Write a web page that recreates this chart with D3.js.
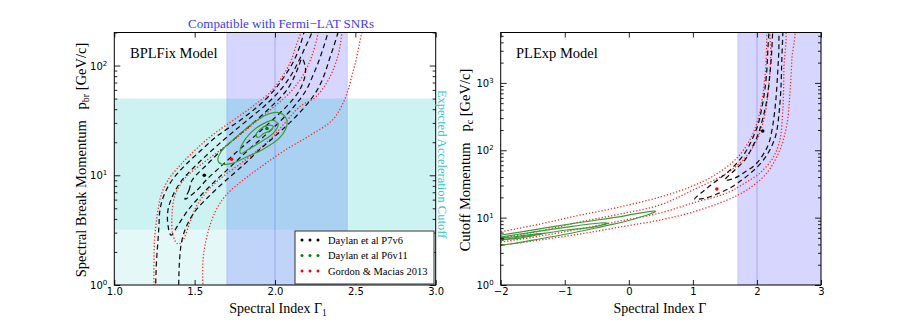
<!DOCTYPE html>
<html><head><meta charset="utf-8">
<script src="https://cdn.jsdelivr.net/npm/d3@7"></script>
<style>body{margin:0;background:#fff}svg{display:block}</style>
</head><body><svg id="c" width="913" height="326"></svg>
<script>
// ---------------- DATA ----------------
// Left panel (BPLFix): [Gamma1, p_br GeV/c]
const bplXTicks = [1.0, 1.5, 2.0, 2.5, 3.0];
const bplYMajor = [1, 10, 100];
const bplYMinor = [2,3,4,5,6,7,8,9,20,30,40,50,60,70,80,90,200];
const fermiBand = [1.7, 2.45];
const fermiLine = 2.0;
const accelBand = [3.2, 50];
const accelLow = [1, 3.2];

const p7v6BPL_3s = [[1.256,0.864],[1.263,1.69],[1.272,2.56],[1.278,3.51],[1.284,4.81],[1.309,6.58],[1.359,9.01],[1.440,12.3],[1.540,16.9],[1.645,23.1],[1.782,31.6],[1.900,43.3],[1.994,59.3],[2.062,81.1],[2.118,111],[2.156,152],[2.180,200],[2.193,231],
  [2.404,231],[2.392,200],[2.367,152],[2.336,111],[2.305,81.1],[2.261,59.3],[2.193,43.3],[2.106,31.6],[2.006,23.1],[1.900,16.9],[1.801,12.3],[1.695,9.01],[1.596,6.58],[1.508,4.81],[1.452,3.51],[1.421,2.56],[1.406,1.69],[1.400,0.864]];
const p7v6BPL_2s = [[2.243,231],[2.230,200],[2.193,152],[2.149,111],[2.099,81.1],[2.031,59.3],[1.938,43.3],[1.826,31.6],[1.714,23.1],[1.608,16.9],[1.508,12.3],[1.421,9.01],[1.365,6.58],[1.334,4.81],[1.334,3.51],[1.353,2.85],
  [1.396,3.51],[1.459,4.81],[1.540,6.58],[1.633,9.01],[1.732,12.3],[1.832,16.9],[1.938,23.1],[2.037,31.6],[2.124,43.3],[2.193,59.3],[2.236,81.1],[2.274,111],[2.305,152],[2.330,200],[2.342,231]];
const p7v6BPL_1s = [[1.440,6.05],[1.465,7.30],[1.484,9.01],[1.571,12.3],[1.667,16.9],[1.773,23.1],[1.882,31.6],[1.984,43.3],[2.072,59.3],[2.124,81.1],[2.149,100],[2.168,116],
  [2.187,100],[2.187,81.1],[2.152,59.3],[2.078,43.3],[1.981,31.6],[1.879,23.1],[1.773,16.9],[1.670,12.3],[1.571,9.01],[1.515,7.30]];
const gmBPL_2s = [[1.247,0.864],[1.247,1.69],[1.250,2.56],[1.259,3.51],[1.272,4.81],[1.291,6.58],[1.334,9.01],[1.409,12.3],[1.502,16.9],[1.608,23.1],[1.739,31.6],[1.869,43.3],[1.981,59.3],[2.050,81.1],[2.100,111],[2.131,152],[2.162,200],[2.174,231],
  [2.554,231],[2.541,200],[2.523,152],[2.504,111],[2.479,81.1],[2.454,59.3],[2.417,43.3],[2.355,31.6],[2.218,23.1],[2.062,16.9],[1.925,12.3],[1.801,9.01],[1.695,6.58],[1.633,4.81],[1.596,3.51],[1.571,2.56],[1.552,1.69],[1.552,0.864]];
const gmBPL_1s = [[2.268,230],[2.268,200],[2.230,123],[2.174,81.1],[2.093,56.8],[1.981,40.6],[1.876,30.3],[1.770,22.6],[1.658,16.9],[1.533,12.3],[1.440,9.40],[1.378,6.58],[1.359,4.33],[1.365,2.85],[1.396,2.36],
  [1.427,2.56],[1.471,3.74],[1.515,5.34],[1.583,7.30],[1.670,9.59],[1.770,12.3],[1.876,16.2],[1.981,22.1],[2.075,31.6],[2.156,42.4],[2.249,51.2],[2.330,73.1],[2.392,123],[2.417,200],[2.423,230]];
const p6v11BPL_3s = [[1.645,13.7],[1.670,16.9],[1.751,21.7],[1.845,28.5],[1.938,35.1],[2.012,37.4],[2.062,34.4],[2.075,29.1],[2.031,22.1],[1.925,17.2],[1.832,14.9],[1.739,12.9],[1.670,12.6]];
const p6v11BPL_2s = [[1.782,16.2],[1.795,19.1],[1.845,24.1],[1.919,29.1],[1.988,31.6],[2.019,29.1],[1.994,24.6],[1.919,20.4],[1.845,17.6],[1.789,15.8]];
const p6v11BPL_1s = [[1.882,23.1],[1.907,26.2],[1.956,28.5],[1.988,27.9],[1.975,25.7],[1.932,24.1],[1.895,22.1]];
const bplBest = {p7v6:[1.56,10.0], p6v11:[1.95,26.7], gm:[1.73,14.0]};

// Right panel (PLExp): [Gamma, p_c GeV/c]
const pleXTicks = [-2, -1, 0, 1, 2, 3];
const pleYMajor = [1, 10, 100, 1000];
const pleYMinor = [2,3,4,5,6,7,8,9,20,30,40,50,60,70,80,90,200,300,400,500,600,700,800,900,2000,3000,4000,5000];
const fermiBandR = [1.7, 3.0];

const gmPLE_2s = [[-2.09,5.91],[-1.387,8.03],[-0.763,10.9],[-0.139,14.4],[0.485,20.2],[0.953,28.4],[1.343,42.9],[1.686,76.6],[1.889,142],[2.014,281],[2.092,659],[2.139,1837],[2.154,5670],[2.154,7210],
  [2.560,7210],[2.544,2180],[2.513,659],[2.466,237],[2.357,101],[2.154,45.9],[1.842,25.7],[1.530,18.2],[1.000,12.1],[0.485,9.21],[-0.139,7.25],[-0.763,5.71],[-1.387,4.65],[-2.09,3.79]];
const gmPLE_1s = [[-2.09,4.81],[-1.387,6.33],[-0.763,8.61],[-0.139,11.3],[0.485,15.4],[1.000,25.7],[1.530,45.9],[1.811,76.6],[1.998,142],[2.123,333],[2.186,927],[2.217,2585],[2.232,7210],
  [2.420,7210],[2.420,1549],[2.404,395],[2.357,142],[2.248,76.6],[2.045,45.9],[1.811,32.6],[1.530,23.2],[1.000,16.5],[0.485,11.7],[-0.139,8.91],[-0.763,6.78],[-1.387,5.33],[-2.09,4.20]];
const p7v6PLE_2s = [[2.186,7210],[2.186,5670],[2.170,3068],[2.154,1549],[2.123,782],[2.076,423],[2.014,237],[1.920,142],[1.811,90.8],[1.686,64.6],[1.530,45.9],[1.343,33.8],[1.187,25.7],[1.031,18.9],
  [1.187,19.5],[1.374,22.4],[1.577,27.5],[1.764,36.1],[1.920,47.5],[2.076,66.8],[2.201,101],[2.295,168],[2.342,333],[2.373,782],[2.388,2180],[2.404,5670],[2.404,7210]];
const p7v6PLE_1s = [[2.248,7210],[2.232,3068],[2.201,1306],[2.154,556],[2.092,300],[2.014,168],[1.920,108],[1.811,71.6],[1.655,50.9],[1.499,36.1],
  [1.655,38.7],[1.811,47.5],[1.967,60.3],[2.092,84.9],[2.186,128],[2.248,237],[2.295,556],[2.326,1549],[2.342,3068],[2.342,7210]];
const p6v11PLE_3s = [[-2.09,5.33],[-1.699,6.11],[-1.231,7.25],[-0.716,8.61],[-0.186,10.2],[0.173,11.7],[0.423,12.5],[0.329,11.3],[-0.030,8.91],[-0.450,7.25],[-0.966,5.71],[-1.496,4.65],[-1.855,4.06],[-2.09,3.79]];
const p6v11PLE_2s = [[-2.09,4.98],[-1.496,6.11],[-0.966,7.25],[-0.450,8.32],[-0.326,8.32],[-0.560,7.25],[-0.966,6.55],[-1.496,5.52],[-1.808,4.98],[-2.09,4.49]];
const p6v11PLE_1s = [[-2.09,4.81],[-1.699,5.33],[-1.309,5.91],[-1.699,4.98],[-2.09,4.65]];
const pleBest = {p7v6:[2.09,193], p6v11:[-1.97,4.8], gm:[1.374,26.6]};

const legendLabels = ["Daylan et al P7v6", "Daylan et al P6v11", "Gordon & Macias 2013"];
const legendColors = ["#000000", "#008000", "#ff0000"];

// ---------------- DRAW ----------------
const svg = d3.select("#c");
const SERIF = "'Liberation Serif', 'DejaVu Serif', serif";
const SANS = "'DejaVu Sans', sans-serif";
const BLACK = {stroke:"#111", width:1.25, dash:"5,3.5"};
const RED = {stroke:"#ff2a2a", width:1.3, dash:"1.3,1.9"};
const GREEN = {stroke:"#3a9a3a", width:1.2, dash:null};

const xL = d3.scaleLinear().domain([1,3]).range([114.3,435.7]);
const yL = d3.scaleLog().domain([1,200]).range([285,32.5]);
const xR = d3.scaleLinear().domain([-2,3]).range([500.7,821]);
const yR = d3.scaleLog().domain([1,5600]).range([285,32.5]);

function clip(id, x, y){
  svg.append("clipPath").attr("id",id).append("rect")
    .attr("x",x.range()[0]).attr("y",y.range()[1])
    .attr("width",x.range()[1]-x.range()[0]).attr("height",y.range()[0]-y.range()[1]);
}
clip("cl", xL, yL); clip("cr", xR, yR);

function drawContour(g, x, y, data, style, closed){
  const ln = d3.line().x(d=>x(d[0])).y(d=>y(d[1]))
    .curve(closed ? d3.curveCatmullRomClosed.alpha(0.5) : d3.curveCatmullRom.alpha(0.5));
  g.append("path").attr("d", ln(data)).attr("fill","none")
    .attr("stroke", style.stroke).attr("stroke-width", style.width)
    .attr("stroke-dasharray", style.dash);
}
function dot(g, x, y, d, color){
  g.append("circle").attr("cx",x(d[0])).attr("cy",y(d[1])).attr("r",1.8).attr("fill",color);
}

function axes(x, y, xTicks, xFmt, yMajor, yMinor){
  const [x0,x1] = x.range(), [y0,y1] = y.range();
  const ga = svg.append("g").attr("font-family", SANS).attr("font-size", 10);
  const style = sel => { sel.select(".domain").remove(); sel.selectAll(".tick line").attr("stroke","#222"); sel.selectAll("text").attr("fill","#000").attr("font-family",SANS).attr("font-size",10); };
  ga.append("g").attr("transform",`translate(0,${y0})`)
    .call(d3.axisBottom(x).tickValues(xTicks).tickSize(-5).tickPadding(3).tickFormat(xFmt)).call(style);
  ga.append("g").attr("transform",`translate(0,${y1})`)
    .call(d3.axisTop(x).tickValues(xTicks).tickSize(-5).tickFormat("")).call(style);
  const yl = ga.append("g").attr("transform",`translate(${x0},0)`)
    .call(d3.axisLeft(y).tickValues(yMajor).tickSize(-6).tickPadding(7).tickFormat(()=>"")).call(style);
  yl.selectAll(".tick text").each(function(d){
    const t = d3.select(this);
    t.text("10").attr("dy","0.35em");
    t.append("tspan").attr("dy","-0.55em").attr("font-size",7).text(Math.round(Math.log10(d)));
  });
  ga.append("g").attr("transform",`translate(${x0},0)`)
    .call(d3.axisLeft(y).tickValues(yMinor).tickSize(-3).tickFormat("")).call(style);
  ga.append("g").attr("transform",`translate(${x1},0)`)
    .call(d3.axisRight(y).tickValues(yMajor).tickSize(-6).tickFormat("")).call(style);
  ga.append("g").attr("transform",`translate(${x1},0)`)
    .call(d3.axisRight(y).tickValues(yMinor).tickSize(-3).tickFormat("")).call(style);
  svg.append("rect").attr("x",x0).attr("y",y1).attr("width",x1-x0).attr("height",y0-y1)
    .attr("fill","none").attr("stroke","#000").attr("stroke-width",1);
}

// ---- Left panel ----
{
  const g = svg.append("g").attr("clip-path","url(#cl)");
  const [x0,x1] = xL.range();
  g.append("rect").attr("x",xL(fermiBand[0])).attr("width",xL(fermiBand[1])-xL(fermiBand[0]))
    .attr("y",yL.range()[1]).attr("height",yL.range()[0]-yL.range()[1])
    .attr("fill","rgb(0,0,255)").attr("fill-opacity",0.16).attr("stroke","rgba(0,0,255,0.12)");
  g.append("rect").attr("x",x0).attr("width",x1-x0).attr("y",yL(accelLow[1])).attr("height",yL(accelLow[0])-yL(accelLow[1]))
    .attr("fill","rgb(0,191,191)").attr("fill-opacity",0.1);
  g.append("rect").attr("x",x0).attr("width",x1-x0).attr("y",yL(accelBand[1])).attr("height",yL(accelBand[0])-yL(accelBand[1]))
    .attr("fill","rgb(0,191,191)").attr("fill-opacity",0.2);
  g.append("line").attr("x1",xL(fermiLine)).attr("x2",xL(fermiLine)).attr("y1",yL.range()[0]).attr("y2",yL.range()[1])
    .attr("stroke","rgba(60,60,230,0.22)").attr("stroke-width",1.3);

  drawContour(g,xL,yL,gmBPL_2s,RED,false);
  drawContour(g,xL,yL,gmBPL_1s,RED,false);
  drawContour(g,xL,yL,p7v6BPL_3s,BLACK,false);
  drawContour(g,xL,yL,p7v6BPL_2s,BLACK,false);
  drawContour(g,xL,yL,p7v6BPL_1s,BLACK,true);
  drawContour(g,xL,yL,p6v11BPL_3s,GREEN,true);
  drawContour(g,xL,yL,p6v11BPL_2s,GREEN,true);
  drawContour(g,xL,yL,p6v11BPL_1s,GREEN,true);
  dot(g,xL,yL,bplBest.p7v6,"#000");
  dot(g,xL,yL,bplBest.p6v11,"#008000");
  dot(g,xL,yL,bplBest.gm,"#ff0000");

  axes(xL, yL, bplXTicks, d3.format(".1f"), bplYMajor, bplYMinor);

  svg.append("text").attr("x",130).attr("y",58).attr("font-family",SERIF).attr("font-size",14.5).text("BPLFix Model");
  svg.append("text").attr("x",(xL(fermiBand[0])+xL(fermiBand[1]))/2 - 6).attr("y",28).attr("text-anchor","middle")
    .attr("font-family",SERIF).attr("font-size",13).attr("fill","#3a3aff").text("Compatible with Fermi\u2212LAT SNRs");
  svg.append("text").attr("transform",`translate(438,${(yL(accelBand[0])+yL(accelBand[1]))/2}) rotate(90)`)
    .attr("text-anchor","middle").attr("font-family",SERIF).attr("font-size",12.5).attr("fill","#2cc6c6")
    .text("Expected Acceleration Cutoff");
  const xl = svg.append("text").attr("x",278).attr("y",312.5).attr("text-anchor","middle")
    .attr("font-family",SERIF).attr("font-size",14).text("Spectral Index \u0393");
  xl.append("tspan").attr("dy",3).attr("font-size",9.5).text("1");
  const ylab = svg.append("text").attr("transform","translate(86,160) rotate(-90)").attr("text-anchor","middle")
    .attr("font-family",SERIF).attr("font-size",14.5).text("Spectral Break Momentum\u2002 p");
  ylab.append("tspan").attr("dy",3).attr("font-size",10).text("br");
  ylab.append("tspan").attr("dy",-3).text(" [GeV/c]");

  const lg = svg.append("g");
  lg.append("rect").attr("x",295).attr("y",231).attr("width",139).attr("height",53)
    .attr("fill","#fff").attr("stroke","#333").attr("stroke-width",1);
  legendLabels.forEach((lab,i)=>{
    const yy = 240 + i*15.5;
    [302,310,318].forEach(xx=>lg.append("circle").attr("cx",xx).attr("cy",yy).attr("r",1.5).attr("fill",legendColors[i]));
    lg.append("text").attr("x",328).attr("y",yy).attr("dy","0.35em").attr("font-family",SERIF).attr("font-size",10.5).text(lab);
  });
}

// ---- Right panel ----
{
  const g = svg.append("g").attr("clip-path","url(#cr)");
  g.append("rect").attr("x",xR(fermiBandR[0])).attr("width",xR(fermiBandR[1])-xR(fermiBandR[0]))
    .attr("y",yR.range()[1]).attr("height",yR.range()[0]-yR.range()[1])
    .attr("fill","rgb(0,0,255)").attr("fill-opacity",0.16).attr("stroke","rgba(0,0,255,0.12)");
  g.append("line").attr("x1",xR(fermiLine)).attr("x2",xR(fermiLine)).attr("y1",yR.range()[0]).attr("y2",yR.range()[1])
    .attr("stroke","rgba(60,60,230,0.22)").attr("stroke-width",1.3);

  drawContour(g,xR,yR,gmPLE_2s,RED,false);
  drawContour(g,xR,yR,gmPLE_1s,RED,false);
  drawContour(g,xR,yR,p7v6PLE_2s,BLACK,false);
  drawContour(g,xR,yR,p7v6PLE_1s,BLACK,false);
  drawContour(g,xR,yR,p6v11PLE_3s,GREEN,false);
  drawContour(g,xR,yR,p6v11PLE_2s,GREEN,false);
  drawContour(g,xR,yR,p6v11PLE_1s,GREEN,false);
  dot(g,xR,yR,pleBest.p7v6,"#000");
  dot(g,xR,yR,pleBest.p6v11,"#008000");
  dot(g,xR,yR,pleBest.gm,"#ff0000");

  axes(xR, yR, pleXTicks, d=>d<0?"\u2212"+Math.abs(d):String(d), pleYMajor, pleYMinor);

  svg.append("text").attr("x",516).attr("y",58).attr("font-family",SERIF).attr("font-size",14.5).text("PLExp Model");
  svg.append("text").attr("x",660).attr("y",312.5).attr("text-anchor","middle")
    .attr("font-family",SERIF).attr("font-size",14).text("Spectral Index \u0393");
  const ylab = svg.append("text").attr("transform","translate(470,160) rotate(-90)").attr("text-anchor","middle")
    .attr("font-family",SERIF).attr("font-size",14.5).text("Cutoff Momentum\u2002 p");
  ylab.append("tspan").attr("dy",3).attr("font-size",10).text("c");
  ylab.append("tspan").attr("dy",-3).text(" [GeV/c]");
}
</script></body></html>
